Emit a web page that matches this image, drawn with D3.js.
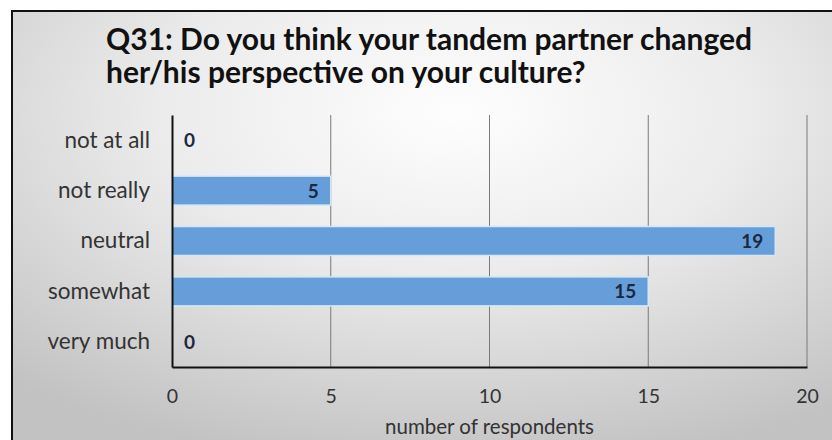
<!DOCTYPE html>
<html>
<head>
<meta charset="utf-8">
<script src="https://cdn.jsdelivr.net/npm/d3@7"></script>
<style>
  html, body { margin: 0; padding: 0; background: #ffffff; }
  svg { display: block; font-family: Lato, "Open Sans", sans-serif; }
</style>
</head>
<body>
<svg id="chart" width="832" height="440"></svg>
<script>
// chart data
const categories = ["not at all", "not really", "neutral", "somewhat", "very much"];
const values = [0, 5, 19, 15, 0];
const xTicks = [0, 5, 10, 15, 20];
const titleLines = ["Q31: Do you think your tandem partner changed", "her/his perspective on your culture?"];
const xTitle = "number of respondents";

const svg = d3.select("#chart");
const W = 832, H = 440;

const margin = { top: 115, left: 172, right: 25, bottom: 73 };
const plotW = W - margin.left - margin.right;
const plotH = H - margin.top - margin.bottom;

// background gradient
const defs = svg.append("defs");
const grad = defs.append("radialGradient")
  .attr("id", "bg")
  .attr("cx", "52%").attr("cy", "22%").attr("r", "78%")
  .attr("fx", "52%").attr("fy", "22%");
grad.append("stop").attr("offset", "0%").attr("stop-color", "#fefefe");
grad.append("stop").attr("offset", "45%").attr("stop-color", "#ebebeb");
grad.append("stop").attr("offset", "100%").attr("stop-color", "#c2c2c2");

svg.append("rect")
  .attr("x", 12).attr("y", 11)
  .attr("width", W + 20).attr("height", H + 20)
  .attr("fill", "url(#bg)")
  .attr("stroke", "#111")
  .attr("stroke-width", 2);

// title
const title = svg.append("text")
  .attr("font-weight", 700)
  .attr("font-size", 30)
  .attr("fill", "#111");
titleLines.forEach((t, i) => {
  title.append("tspan")
    .attr("x", 106)
    .attr("y", 50 + i * 33)
    .text(t);
});

const g = svg.append("g")
  .attr("transform", `translate(${margin.left},${margin.top})`);

const x = d3.scaleLinear()
  .domain([0, 20])
  .range([0, plotW]);

const y = d3.scaleBand()
  .domain(categories)
  .range([0, plotH])
  .paddingInner(0.425)
  .paddingOuter(0.2125);

// vertical gridlines
g.append("g")
  .selectAll("line")
  .data(xTicks.filter(d => d > 0))
  .enter()
  .append("line")
  .attr("x1", d => x(d))
  .attr("x2", d => x(d))
  .attr("y1", 0)
  .attr("y2", plotH)
  .attr("stroke", "#7a7a7a")
  .attr("stroke-width", 1);

// bars
g.selectAll(".bar")
  .data(values)
  .enter()
  .append("rect")
  .attr("class", "bar")
  .attr("x", 0)
  .attr("y", (d, i) => y(categories[i]))
  .attr("width", d => x(d))
  .attr("height", y.bandwidth())
  .attr("fill", "#659ed8")
  .attr("stroke", d => d > 0 ? "#d4e6f7" : "none")
  .attr("stroke-width", 1.5);

// value labels
g.selectAll(".val")
  .data(values)
  .enter()
  .append("text")
  .attr("class", "val")
  .attr("x", d => d > 0 ? x(d) - 12 : 12)
  .attr("y", (d, i) => y(categories[i]) + y.bandwidth() / 2 + 7)
  .attr("text-anchor", d => d > 0 ? "end" : "start")
  .attr("font-weight", 700)
  .attr("font-size", 19)
  .attr("fill", "#1c2840")
  .text(d => d);

// x axis
const xAxis = g.append("g")
  .attr("transform", `translate(0,${plotH})`)
  .call(d3.axisBottom(x).tickValues(xTicks).tickSize(0).tickPadding(0));
xAxis.select(".domain").attr("stroke", "#111").attr("stroke-width", 2);
xAxis.attr("font-family", null).attr("font-size", null);
xAxis.selectAll("text")
  .attr("y", 36)
  .attr("dy", null)
  .attr("font-size", 19.5)
  .attr("fill", "#333");

// y axis
const yAxis = g.append("g")
  .call(d3.axisLeft(y).tickSize(0).tickPadding(22));
yAxis.select(".domain").attr("stroke", "#111").attr("stroke-width", 2);
yAxis.attr("font-family", null).attr("font-size", null);
yAxis.selectAll("text")
  .attr("font-size", 22.5)
  .attr("fill", "#333")
  .attr("dy", "0.33em");

// axis title
svg.append("text")
  .attr("x", margin.left + plotW / 2)
  .attr("y", 434)
  .attr("text-anchor", "middle")
  .attr("font-size", 20.5)
  .attr("fill", "#333")
  .text(xTitle);
</script>
</body>
</html>
